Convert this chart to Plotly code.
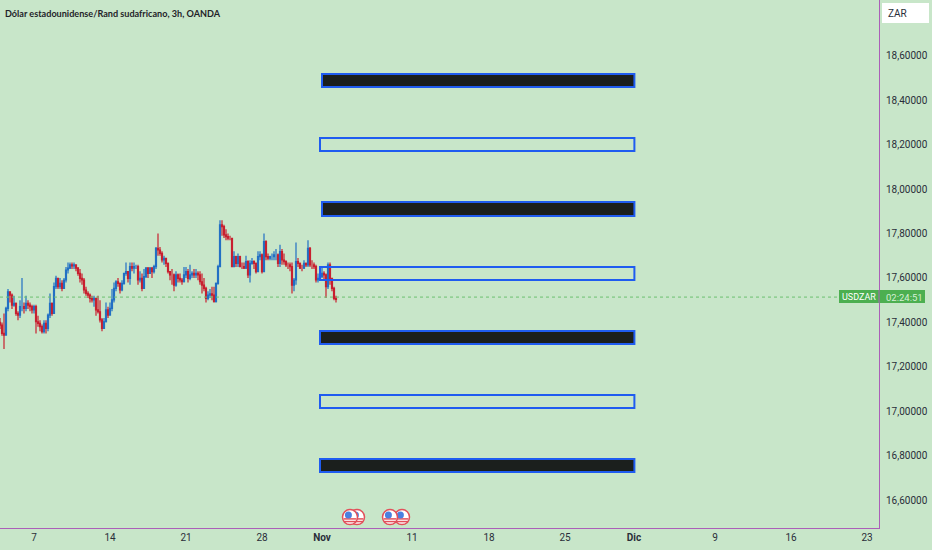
import plotly.graph_objects as go

# 3h bars (price, one list per column)
opens = [17.400,17.388,17.351,17.343,17.463,17.538,17.523,17.478,17.486,17.441,17.433,17.471,17.471,17.463,17.486,17.478,17.471,17.456,17.471,17.403,
17.396,17.381,17.358,17.396,17.373,17.433,17.486,17.441,17.561,17.598,17.561,17.576,17.553,17.591,17.636,17.644,17.659,17.654,17.659,17.644,
17.621,17.598,17.591,17.546,17.531,17.523,17.508,17.501,17.508,17.456,17.448,17.411,17.373,17.403,17.456,17.433,17.463,17.501,17.553,17.583,
17.576,17.546,17.576,17.621,17.629,17.598,17.651,17.644,17.651,17.651,17.591,17.598,17.553,17.606,17.644,17.621,17.644,17.629,17.651,17.734,
17.726,17.711,17.681,17.689,17.666,17.629,17.614,17.614,17.568,17.614,17.598,17.591,17.583,17.614,17.629,17.598,17.614,17.621,17.614,17.621,
17.614,17.583,17.568,17.553,17.508,17.523,17.528,17.523,17.493,17.576,17.651,17.839,17.831,17.794,17.786,17.779,17.779,17.651,17.696,17.666,
17.696,17.651,17.651,17.644,17.674,17.614,17.666,17.674,17.666,17.629,17.696,17.704,17.629,17.764,17.696,17.689,17.696,17.696,17.704,17.704,
17.666,17.719,17.681,17.674,17.659,17.659,17.651,17.568,17.591,17.674,17.666,17.644,17.644,17.666,17.659,17.734,17.659,17.659,17.651,17.591,
17.598,17.606,17.621,17.614,17.561,17.659,17.598,17.553,17.508]
closes = [17.388,17.351,17.343,17.463,17.538,17.523,17.478,17.486,17.441,17.433,17.471,17.471,17.463,17.486,17.478,17.471,17.456,17.471,17.403,17.396,
17.381,17.358,17.396,17.373,17.433,17.486,17.441,17.561,17.598,17.561,17.576,17.553,17.591,17.636,17.644,17.659,17.654,17.659,17.644,17.621,
17.598,17.591,17.546,17.531,17.523,17.508,17.501,17.508,17.456,17.448,17.411,17.373,17.403,17.456,17.433,17.463,17.501,17.553,17.583,17.576,
17.546,17.576,17.621,17.629,17.598,17.651,17.644,17.651,17.651,17.591,17.598,17.553,17.606,17.644,17.621,17.644,17.629,17.651,17.734,17.726,
17.711,17.681,17.689,17.666,17.629,17.614,17.614,17.568,17.614,17.598,17.591,17.583,17.614,17.629,17.598,17.614,17.621,17.614,17.621,17.614,
17.583,17.568,17.553,17.508,17.523,17.528,17.523,17.493,17.576,17.651,17.839,17.831,17.794,17.786,17.779,17.779,17.651,17.696,17.666,17.696,
17.651,17.651,17.644,17.674,17.614,17.666,17.674,17.666,17.629,17.696,17.704,17.629,17.764,17.696,17.689,17.696,17.696,17.704,17.704,17.666,
17.719,17.681,17.674,17.659,17.659,17.651,17.568,17.591,17.674,17.666,17.644,17.644,17.666,17.659,17.734,17.659,17.659,17.651,17.591,17.598,
17.606,17.621,17.614,17.561,17.659,17.598,17.553,17.508,17.504]
highs = [17.42,17.40,17.44,17.47,17.55,17.54,17.53,17.52,17.49,17.45,17.50,17.60,17.49,17.52,17.50,17.49,17.48,17.48,17.48,17.43,
17.41,17.39,17.41,17.41,17.44,17.53,17.49,17.58,17.61,17.60,17.60,17.59,17.60,17.65,17.67,17.67,17.67,17.67,17.66,17.65,
17.64,17.62,17.60,17.56,17.54,17.53,17.52,17.52,17.51,17.52,17.50,17.42,17.42,17.49,17.47,17.49,17.55,17.58,17.59,17.60,
17.58,17.59,17.62,17.67,17.63,17.67,17.67,17.67,17.66,17.66,17.63,17.62,17.64,17.65,17.65,17.65,17.65,17.66,17.74,17.80,
17.74,17.72,17.70,17.69,17.67,17.63,17.64,17.62,17.63,17.62,17.62,17.60,17.65,17.65,17.64,17.66,17.63,17.64,17.64,17.63,
17.63,17.62,17.60,17.56,17.54,17.55,17.56,17.56,17.58,17.66,17.86,17.86,17.84,17.82,17.80,17.79,17.78,17.72,17.70,17.71,
17.70,17.67,17.67,17.70,17.68,17.68,17.69,17.68,17.67,17.72,17.72,17.71,17.80,17.77,17.71,17.70,17.71,17.72,17.73,17.71,
17.75,17.73,17.71,17.68,17.67,17.67,17.67,17.60,17.76,17.69,17.67,17.66,17.68,17.67,17.77,17.74,17.68,17.67,17.66,17.62,
17.63,17.65,17.63,17.62,17.67,17.67,17.60,17.56,17.52]
lows = [17.37,17.34,17.28,17.34,17.45,17.49,17.46,17.47,17.43,17.41,17.42,17.45,17.44,17.45,17.46,17.45,17.44,17.44,17.35,17.38,
17.36,17.35,17.35,17.35,17.36,17.42,17.43,17.44,17.55,17.55,17.55,17.54,17.55,17.58,17.62,17.64,17.64,17.64,17.63,17.61,
17.58,17.57,17.53,17.52,17.51,17.49,17.49,17.47,17.43,17.44,17.40,17.36,17.37,17.40,17.42,17.43,17.45,17.49,17.54,17.56,
17.53,17.54,17.57,17.61,17.58,17.57,17.63,17.62,17.64,17.57,17.58,17.54,17.55,17.60,17.60,17.62,17.60,17.62,17.64,17.70,
17.70,17.67,17.66,17.65,17.62,17.59,17.57,17.54,17.56,17.58,17.58,17.57,17.58,17.60,17.58,17.59,17.60,17.60,17.60,17.59,
17.57,17.53,17.54,17.49,17.50,17.51,17.50,17.49,17.49,17.57,17.65,17.79,17.78,17.77,17.77,17.77,17.65,17.65,17.65,17.65,
17.65,17.64,17.64,17.64,17.60,17.58,17.66,17.64,17.62,17.63,17.68,17.62,17.63,17.68,17.68,17.68,17.68,17.68,17.68,17.65,
17.65,17.66,17.66,17.65,17.64,17.63,17.53,17.54,17.57,17.65,17.64,17.63,17.64,17.65,17.65,17.65,17.64,17.64,17.58,17.58,
17.59,17.60,17.59,17.51,17.55,17.57,17.54,17.50,17.49]
bars = list(range(len(closes)))

price_ticks = [18.6, 18.4, 18.2, 18.0, 17.8, 17.6, 17.4, 17.2, 17.0, 16.8, 16.6]
price_labels = ["18,60000", "18,40000", "18,20000", "18,00000", "17,80000", "17,60000",
                "17,40000", "17,20000", "17,00000", "16,80000", "16,60000"]
time_ticks = [17, 55, 93, 131, 161, 206, 244.5, 282.5, 317, 357.5, 395.5, 433.5]
time_labels = ["7", "14", "21", "28", "<b>Nov</b>", "11", "18", "25", "<b>Dic</b>", "9", "16", "23"]

# drawn zones: low, high, left bar, filled or not
zone_lows = [18.460, 18.172, 17.879, 17.591, 17.303, 17.014, 16.726]
zone_highs = [18.519, 18.231, 17.942, 17.650, 17.361, 17.073, 16.785]
zone_starts = [161, 160, 161, 160, 160, 160, 160]
zone_filled = [True, False, True, False, True, False, True]
zone_end = 317.2

last_price = 17.514
flag_bars = [178.5, 175, 201, 195]
flag_price = 16.523

BG = "#c8e6c9"
PURPLE = "#ab5fb8"
W, H = 932, 550
PLOT_W, PLOT_H = 879, 528

fig = go.Figure()

fig.add_trace(go.Candlestick(
    x=bars, open=opens, high=highs, low=lows, close=closes,
    increasing=dict(line=dict(color="#2270c4", width=1.2), fillcolor="#2270c4"),
    decreasing=dict(line=dict(color="#c8202f", width=1.2), fillcolor="#c8202f"),
    whiskerwidth=0, showlegend=False, hoverinfo="skip",
))

for lo, hi, start, filled in zip(zone_lows, zone_highs, zone_starts, zone_filled):
    fig.add_shape(type="rect", x0=start, x1=zone_end, y0=lo, y1=hi,
                  line=dict(color="#1f5cf0", width=2),
                  fillcolor="#1b1f1d" if filled else "rgba(0,0,0,0)")

# current price line
fig.add_shape(type="line", xref="paper", x0=0, x1=1, y0=last_price, y1=last_price,
              line=dict(color="#6cc070", width=1, dash="dot"))

# US flag event markers
for b in flag_bars:
    fig.add_trace(go.Scatter(x=[b], y=[flag_price], mode="markers", showlegend=False, hoverinfo="skip",
                             marker=dict(symbol="circle", size=15, color="white",
                                         line=dict(color="#e2505a", width=1.5)), cliponaxis=False))
    fig.add_trace(go.Scatter(x=[b, b], y=[flag_price - 0.008, flag_price - 0.02], mode="markers",
                             showlegend=False, hoverinfo="skip",
                             marker=dict(symbol="line-ew", size=9, line=dict(color="#e2505a", width=1.5))))
    fig.add_trace(go.Scatter(x=[b - 0.8], y=[flag_price + 0.01], mode="markers", showlegend=False, hoverinfo="skip",
                             marker=dict(symbol="circle", size=7, color="#4a80e0")))

# price label on the right
fig.add_shape(type="rect", xref="paper", yref="paper", x0=839 / PLOT_W, x1=925 / PLOT_W,
              y0=(PLOT_H - 303) / PLOT_H, y1=(PLOT_H - 290) / PLOT_H,
              line=dict(width=0), fillcolor="#4caf50")
# the axis line runs over the label
fig.add_shape(type="line", xref="paper", yref="paper", x0=1, x1=1, y0=(PLOT_H - 303) / PLOT_H,
              y1=(PLOT_H - 290) / PLOT_H, line=dict(color=PURPLE, width=1))
# ZAR button
fig.add_shape(type="rect", xref="paper", yref="paper", x0=882 / PLOT_W, x1=929 / PLOT_W,
              y0=(PLOT_H - 23) / PLOT_H, y1=(PLOT_H - 3) / PLOT_H,
              line=dict(width=0), fillcolor="white")


def label(px, py, text, size, color, weight=400, family="Roboto"):
    fig.add_annotation(xref="paper", yref="paper", x=px / PLOT_W, y=(PLOT_H - py) / PLOT_H,
                       text=text, showarrow=False, xanchor="left", yanchor="middle",
                       font=dict(family=family, size=size, color=color, weight=weight))


label(3, 13, "Dólar estadounidense/Rand sudafricano, 3h, OANDA", 9.1, "#1f2328", 700, "Lato")
label(886, 13, "ZAR", 10, "#2a2e39")
label(840, 297, "USDZAR", 9, "white")
label(884, 297, "02:24:51", 9.5, "#d5efd6")

fig.update_layout(
    width=W, height=H,
    margin=dict(l=0, r=W - PLOT_W, t=0, b=H - PLOT_H),
    paper_bgcolor=BG, plot_bgcolor=BG,
    font=dict(family="Roboto", size=10, color="#2a2e39"),
    showlegend=False,
    xaxis=dict(range=[0, 439.5], tickvals=time_ticks, ticktext=time_labels, showgrid=False, zeroline=False,
               rangeslider=dict(visible=False), showline=True, linecolor=PURPLE, linewidth=1, ticks="",
               tickangle=0),
    yaxis=dict(range=[16.474, 18.852], side="right", tickvals=price_ticks, ticktext=price_labels,
               showgrid=False, zeroline=False, showline=True, linecolor=PURPLE, linewidth=1, ticks="",
               ticklabelstandoff=4),
)

fig.write_html("out.html", config=dict(displayModeBar=False),
               post_script="document.body.style.margin='0';document.body.style.overflow='hidden';")
